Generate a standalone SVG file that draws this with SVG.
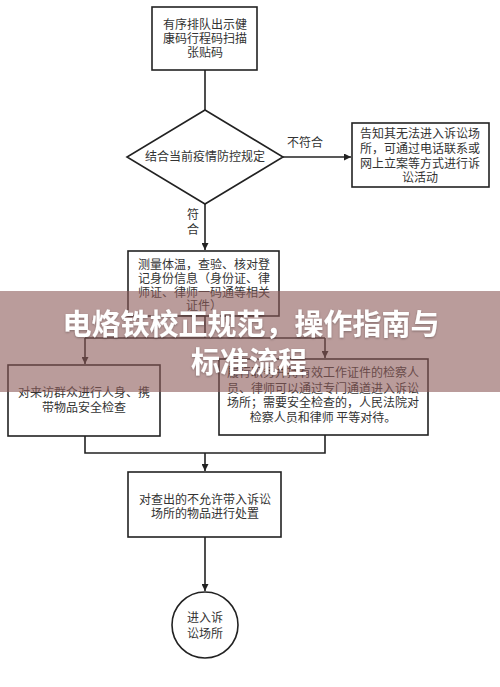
<svg xmlns="http://www.w3.org/2000/svg" width="500" height="687" viewBox="0 0 500 687">
<style>
.box{fill:#fff;stroke:#222;stroke-width:1.6}
.t{font-family:"Noto Sans CJK SC","Liberation Sans",sans-serif;font-size:12px;fill:#333;text-anchor:middle}
.ln{fill:none;stroke:#222;stroke-width:1.6}
.title{font-family:"Noto Sans CJK SC","Liberation Sans",sans-serif;font-size:29px;font-weight:bold;fill:#fff;text-anchor:middle}
</style>
<defs>
<marker id="ah" viewBox="0 0 10 10" refX="10" refY="5" markerWidth="7" markerHeight="7" markerUnits="userSpaceOnUse" orient="auto">
<path d="M0,0 L10,5 L0,10 z" fill="#222"/>
</marker>
<filter id="sh" x="-5%" y="-20%" width="110%" height="140%">
<feDropShadow dx="0" dy="1" stdDeviation="1" flood-color="#000" flood-opacity="0.3"/>
</filter>
</defs>
<rect width="500" height="687" fill="#fff"/>
<g id="connectors">
<line class="ln" x1="205" y1="70" x2="205" y2="110"/>
<line class="ln" x1="283" y1="157" x2="351" y2="157" marker-end="url(#ah)"/>
<text class="t" x="305" y="147">不符合</text>
<line class="ln" x1="205" y1="204" x2="205" y2="250" marker-end="url(#ah)"/>
<text class="t" x="193" y="219">符</text>
<text class="t" x="193" y="234">合</text>
<polyline class="ln" points="205,316 205,338"/>
<polyline class="ln" points="85,338 325,338"/>
<line class="ln" x1="85" y1="338" x2="85" y2="364" marker-end="url(#ah)"/>
<line class="ln" x1="325" y1="338" x2="325" y2="358" marker-end="url(#ah)"/>
<polyline class="ln" points="85,436 85,453 325,453 325,435"/>
<line class="ln" x1="205" y1="453" x2="205" y2="471" marker-end="url(#ah)"/>
<line class="ln" x1="205" y1="537" x2="205" y2="591" marker-end="url(#ah)"/>
</g>
<g id="n1">
<rect class="box" x="152" y="7" width="105" height="63"/>
<text class="t" x="205" y="29">有序排队出示健</text>
<text class="t" x="205" y="43">康码行程码扫描</text>
<text class="t" x="205" y="57">张贴码</text>
</g>
<g id="n2">
<polygon class="box" points="205,110 283,157 205,204 127,157"/>
<text class="t" x="205" y="161">结合当前疫情防控规定</text>
</g>
<g id="n3">
<rect class="box" x="352" y="123" width="137" height="64"/>
<text class="t" x="420" y="138">告知其无法进入诉讼场</text>
<text class="t" x="420" y="153">所，可通过电话联系或</text>
<text class="t" x="420" y="168">网上立案等方式进行诉</text>
<text class="t" x="420" y="182">讼活动</text>
</g>
<g id="n4">
<rect class="box" x="128" y="251" width="151" height="65"/>
<text class="t" x="204" y="269">测量体温，查验、核对登</text>
<text class="t" x="204" y="283">记身份信息（身份证、律</text>
<text class="t" x="204" y="297">师证、律师一码通等相关</text>
<text class="t" x="204" y="310">证件）</text>
</g>
<g id="n5">
<rect class="box" x="8" y="365" width="152" height="71"/>
<text class="t" x="84" y="397">对来访群众进行人身、携</text>
<text class="t" x="84" y="412">带物品安全检查</text>
</g>
<g id="n6">
<rect class="box" x="219" y="359" width="209" height="76"/>
<text class="t" x="323" y="377">履行职务并持有效工作证件的检察人</text>
<text class="t" x="323" y="393">员、律师可以通过专门通道进入诉讼</text>
<text class="t" x="323" y="407">场所；需要安全检查的，人民法院对</text>
<text class="t" x="323" y="422">检察人员和律师 平等对待。</text>
</g>
<g id="n7">
<rect class="box" x="128" y="472" width="153" height="65"/>
<text class="t" x="205" y="504">对查出的不允许带入诉讼</text>
<text class="t" x="205" y="518">场所的物品进行处置</text>
</g>
<g id="n8">
<circle class="box" cx="205" cy="625" r="33"/>
<text class="t" x="205" y="622">进入诉</text>
<text class="t" x="205" y="638">讼场所</text>
</g>
<g id="banner">
<rect x="0" y="291" width="500" height="101" fill="#8c5a58" fill-opacity="0.6"/>
<text class="title" x="251" y="335" filter="url(#sh)">电烙铁校正规范，操作指南与</text>
<text class="title" x="249" y="373" filter="url(#sh)">标准流程</text>
</g>
</svg>
